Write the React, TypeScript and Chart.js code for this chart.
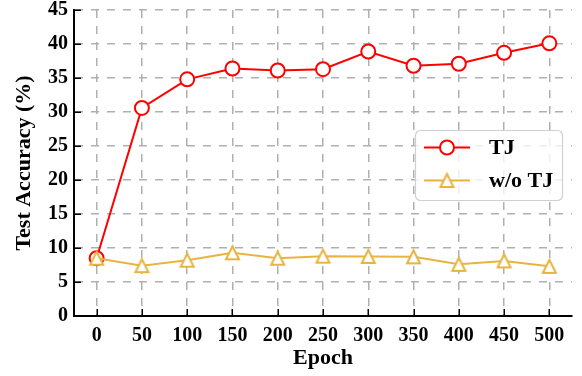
import React, { useEffect, useRef } from "react";
import { Chart, registerables } from "chart.js";

Chart.register(...registerables);

const epochs = [0, 50, 100, 150, 200, 250, 300, 350, 400, 450, 500];
const tjValues = [8.5, 30.6, 34.8, 36.4, 36.1, 36.3, 38.9, 36.8, 37.1, 38.7, 40.1];
const woTjValues = [8.5, 7.4, 8.2, 9.3, 8.5, 8.8, 8.75, 8.7, 7.6, 8.1, 7.3];
const xTickValues = [0, 50, 100, 150, 200, 250, 300, 350, 400, 450, 500];
const seriesLabels = ["TJ", "w/o TJ"];

const RED = "#ff0000";
const GOLD = "#e8b440";
const GRID = "#b0b0b0";
const FONT = "'Liberation Serif', 'Times New Roman', serif";

function makeTriangle(color: string, size: number, lw: number) {
  const c = document.createElement("canvas");
  const dim = Math.ceil(size + lw * 2 + 2);
  c.width = dim;
  c.height = dim;
  const ctx = c.getContext("2d")!;
  const m = dim / 2;
  const h = size / 2;
  ctx.beginPath();
  ctx.moveTo(m, m - h);
  ctx.lineTo(m - h, m + h);
  ctx.lineTo(m + h, m + h);
  ctx.closePath();
  ctx.fillStyle = "#ffffff";
  ctx.fill();
  ctx.lineWidth = lw;
  ctx.lineJoin = "miter";
  ctx.strokeStyle = color;
  ctx.stroke();
  return c;
}

export default function App() {
  const ref = useRef<HTMLCanvasElement | null>(null);

  useEffect(() => {
    document.body.style.margin = "0";
    const canvas = ref.current!;
    const tri = makeTriangle(GOLD, 13, 2);

    const inwardTicks = {
      id: "inwardTicks",
      beforeDatasetsDraw(chart: any) {
        const { ctx, chartArea, scales } = chart;
        const x = scales.x;
        const y = scales.y;
        ctx.save();
        ctx.strokeStyle = "#000";
        ctx.lineWidth = 1.5;
        ctx.setLineDash([]);
        x.ticks.forEach((t: any) => {
          const px = Math.round(x.getPixelForValue(t.value)) + 0.25;
          ctx.beginPath();
          ctx.moveTo(px, chartArea.bottom);
          ctx.lineTo(px, chartArea.bottom - 7);
          ctx.stroke();
        });
        y.ticks.forEach((t: any) => {
          const py = Math.round(y.getPixelForValue(t.value)) + 0.25;
          ctx.beginPath();
          ctx.moveTo(chartArea.left, py);
          ctx.lineTo(chartArea.left + 7, py);
          ctx.stroke();
        });
        ctx.restore();
      },
    };

    const customLegend = {
      id: "customLegend",
      afterDraw(chart: any) {
        const { ctx, chartArea } = chart;
        const right = chartArea.right - 10;
        const w = 147;
        const h = 70;
        const left = right - w;
        const top = chartArea.top + 120.5;
        ctx.save();
        ctx.setLineDash([]);
        ctx.beginPath();
        (ctx as any).roundRect(left + 0.5, top, w, h, 5);
        ctx.fillStyle = "rgba(255,255,255,0.8)";
        ctx.fill();
        ctx.lineWidth = 1.2;
        ctx.strokeStyle = "#d0d0d0";
        ctx.stroke();
        const colors = [RED, GOLD];
        seriesLabels.forEach((label, i) => {
          const cy = top + 17 + i * 33;
          const x0 = left + 9;
          const x1 = left + 55;
          const mx = (x0 + x1) / 2;
          ctx.beginPath();
          ctx.moveTo(x0, cy);
          ctx.lineTo(x1, cy);
          ctx.strokeStyle = colors[i];
          ctx.lineWidth = 2;
          ctx.stroke();
          if (i === 0) {
            ctx.beginPath();
            ctx.arc(mx, cy, 7, 0, Math.PI * 2);
            ctx.fillStyle = "#fff";
            ctx.fill();
            ctx.strokeStyle = RED;
            ctx.lineWidth = 2;
            ctx.stroke();
          } else {
            ctx.drawImage(tri, mx - tri.width / 2, cy - tri.height / 2);
          }
          ctx.fillStyle = "#000";
          ctx.font = `bold 22px ${FONT}`;
          ctx.textBaseline = "middle";
          ctx.textAlign = "left";
          ctx.fillText(label, left + 74, cy + 1);
        });
        ctx.restore();
      },
    };

    const dashFn = () => [8, 8];

    const chart = new Chart(canvas, {
      type: "line",
      data: {
        labels: epochs,
        datasets: [
          {
            label: seriesLabels[0],
            data: epochs.map((e, i) => ({ x: e, y: tjValues[i] })),
            borderColor: RED,
            backgroundColor: "#ffffff",
            borderWidth: 2,
            pointStyle: "circle",
            pointRadius: 7,
            pointBorderWidth: 2,
            pointBackgroundColor: "#ffffff",
            pointBorderColor: RED,
            tension: 0,
            order: 1,
          },
          {
            label: seriesLabels[1],
            data: epochs.map((e, i) => ({ x: e, y: woTjValues[i] })),
            borderColor: GOLD,
            backgroundColor: "#ffffff",
            borderWidth: 2,
            pointStyle: tri as any,
            pointRadius: 8,
            tension: 0,
            order: 0,
          },
        ],
      },
      options: {
        responsive: false,
        animation: false,
        events: [],
        layout: { padding: { top: 5, right: 6, left: 0, bottom: 0 } },
        plugins: {
          legend: { display: false },
          tooltip: { enabled: false },
        },
        scales: {
          x: {
            type: "linear",
            min: -25,
            max: 525,
            afterBuildTicks(scale: any) {
              scale.ticks = xTickValues.map((v) => ({ value: v }));
            },
            afterFit(scale: any) {
              scale.height = 60;
              scale.paddingLeft = 0;
              scale.paddingRight = 0;
            },
            grid: {
              color: GRID,
              lineWidth: 1.5,
              drawTicks: false,
            },
            border: { display: true, color: "#000", width: 2, dash: dashFn as any },
            ticks: {
              color: "#000",
              padding: 8,
              maxRotation: 0,
              autoSkip: false,
              font: { family: FONT, size: 20, weight: "bold" },
            },
            title: {
              display: true,
              text: "Epoch",
              color: "#000",
              font: { family: FONT, size: 22, weight: "bold" },
              padding: { top: 0, bottom: 4 },
            },
          },
          y: {
            type: "linear",
            min: 0,
            max: 45,
            afterFit(scale: any) {
              scale.width = 74;
              scale.paddingTop = 0;
              scale.paddingBottom = 0;
            },
            grid: {
              color: GRID,
              lineWidth: 1.5,
              drawTicks: false,
            },
            border: { display: true, color: "#000", width: 2, dash: dashFn as any },
            ticks: {
              stepSize: 5,
              color: "#000",
              padding: 6,
              font: { family: FONT, size: 20, weight: "bold" },
            },
            title: {
              display: true,
              text: "Test Accuracy (%)",
              color: "#000",
              font: { family: FONT, size: 22, weight: "bold" },
              padding: { top: 11, bottom: 0 },
            },
          },
        },
      },
      plugins: [inwardTicks, customLegend],
    });

    return () => chart.destroy();
  }, []);

  return (
    <div style={{ width: 582, height: 376 }}>
      <canvas ref={ref} width={582} height={376} style={{ display: "block" }} />
    </div>
  );
}
